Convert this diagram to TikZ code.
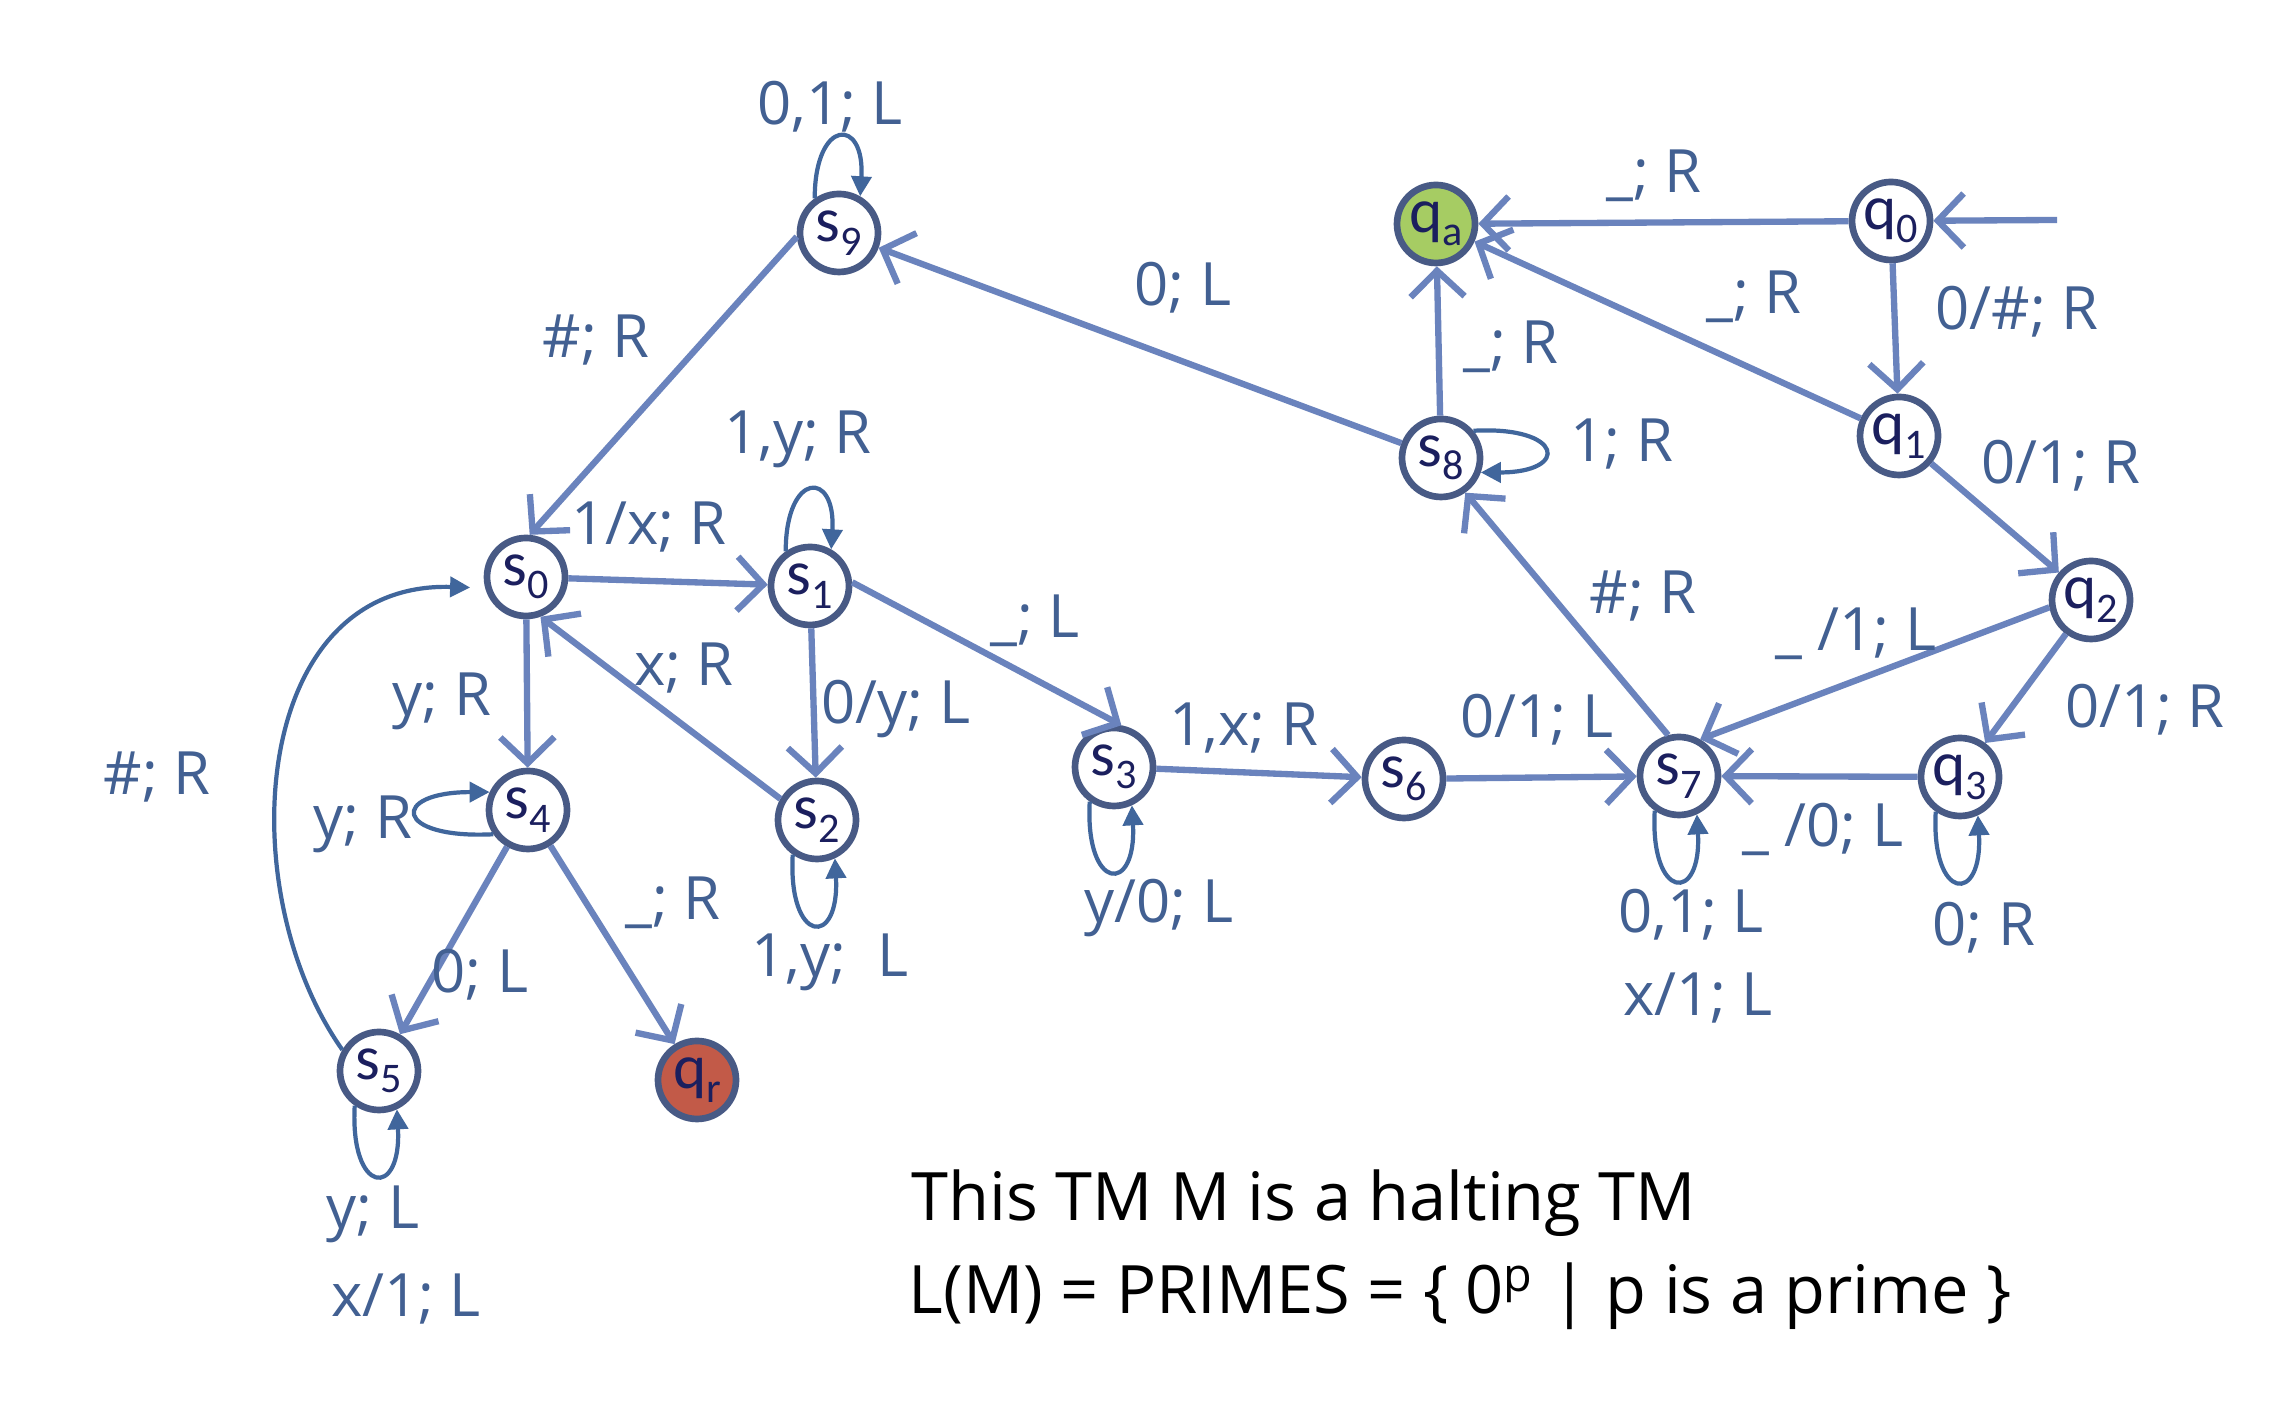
\documentclass[tikz,border=0pt]{standalone}
\usepackage{fontspec}
\setmainfont{Open Sans}
\newfontfamily\statefont{Carlito}
\usetikzlibrary{arrows.meta, positioning}
\definecolor{stateborder}{RGB}{72, 90, 133}
\definecolor{edgeblue}{RGB}{106, 131, 189}
\definecolor{loopblue}{RGB}{64, 102, 156}
\definecolor{labelblue}{RGB}{66, 96, 146}
\definecolor{statetext}{RGB}{27, 31, 94}
\definecolor{acceptgreen}{RGB}{166, 204, 99}
\definecolor{rejectred}{RGB}{194, 90, 72}
\newcommand{\stname}[2]{#1\raisebox{-0.45ex}{\fontsize{12}{12}\selectfont #2}}

\begin{document}
\begin{tikzpicture}[
    state/.style={circle, draw=stateborder, line width=1.9pt, fill=white, minimum size=0.78cm, inner sep=0pt, font=\statefont\fontsize{18}{18}\selectfont, text=statetext},
    edge/.style={draw=edgeblue, line width=1.8pt, -{Straight Barb[length=2.6mm,width=5.4mm]}},
    loopline/.style={draw=loopblue, line width=1.2pt, -{Triangle[length=2mm,width=2mm]}},
    lbl/.style={text=labelblue, font=\fontsize{17}{20}\selectfont, inner sep=0pt}
]
    \fill[white] (0,0) rectangle (22.84,14.21);
    \useasboundingbox (0,0) rectangle (22.84,14.21);

    % states
    \node[state] (s9) at (8.39,11.88) {\stname{s}{9}};
    \node[state, fill=acceptgreen] (qa) at (14.36,11.97) {\stname{q}{a}};
    \node[state] (q0) at (18.91,12.00) {\stname{q}{0}};
    \node[state] (q1) at (18.99,9.85) {\stname{q}{1}};
    \node[state] (s8) at (14.41,9.63) {\stname{s}{8}};
    \node[state] (s0) at (5.26,8.44) {\stname{s}{0}};
    \node[state] (s1) at (8.10,8.35) {\stname{s}{1}};
    \node[state] (q2) at (20.91,8.21) {\stname{q}{2}};
    \node[state] (s3) at (11.14,6.54) {\stname{s}{3}};
    \node[state] (s6) at (14.04,6.42) {\stname{s}{6}};
    \node[state] (s7) at (16.79,6.45) {\stname{s}{7}};
    \node[state] (q3) at (19.60,6.44) {\stname{q}{3}};
    \node[state] (s4) at (5.28,6.11) {\stname{s}{4}};
    \node[state] (s2) at (8.17,6.01) {\stname{s}{2}};
    \node[state] (s5) at (3.79,3.50) {\stname{s}{5}};
    \node[state, fill=rejectred] (qr) at (6.97,3.41) {\stname{q}{r}};
    \coordinate (start) at (20.57,12.01);

    % transitions
    \draw[edge] (start) -- (q0);
    \draw[edge] (q0) -- (qa);
    \draw[edge] (q0) -- (q1);
    \draw[edge] (q1) -- (qa);
    \draw[edge] (q1) -- (q2);
    \draw[edge] (s8) -- (qa);
    \draw[edge] (s8) -- (s9);
    \draw[edge] (s9.185) -- (s0.85);
    \draw[edge] (s0) -- (s1);
    \draw[edge] (s0) -- (s4);
    \draw[edge] (s2.150) -- (s0.290);
    \draw[edge] (s1) -- (s2);
    \draw[edge] (s1.5) -- (s3.80);
    \draw[edge] (s3) -- (s6);
    \draw[edge] (s6) -- (s7);
    \draw[edge] (q3) -- (s7);
    \draw[edge] (q2.190) -- (s7.60);
    \draw[edge] (q2) -- (q3);
    \draw[edge] (s7.105) -- (s8.305);
    \draw[edge] (s4) -- (s5);
    \draw[edge] (s4) -- (qr);

    % self loops
    \draw[loopline] (s9.125) .. controls +(0,0.8) and +(0.05,0.8) .. (s9.60);
    \draw[loopline] (s1.125) .. controls +(0,0.8) and +(0.05,0.8) .. (s1.60);
    \draw[loopline] (s8.40) .. controls +(0.9,0.05) and +(0.9,0) .. (s8.340);
    \draw[loopline] (s4.215) .. controls +(-1.0,-0.05) and +(-1.0,0) .. (s4.155);
    \foreach \s in {s2,s3,s5,s7,q3}
        \draw[loopline] (\s.235) .. controls +(-0.05,-0.9) and +(0.05,-0.9) .. (\s.295);
    \draw[loopline, shorten >=0.15cm] (s5.150) .. controls (2.3,5.3) and (2.5,8.4) .. (s0.195);

    % labels
    \node[lbl] (l9) at (8.30,13.14) {0,1; L};
    \node[lbl] (l90) at (5.96,10.81) {\#; R};
    \node[lbl] (l89) at (11.83,11.33) {0; L};
    \node[lbl] (l0a) at (16.54,12.45) {\_; R};
    \node[lbl] (l1a) at (17.54,11.24) {\_; R};
    \node[lbl] (l01) at (20.17,11.09) {0/\#; R};
    \node[lbl] (l8a) at (15.11,10.74) {\_; R};
    \node[lbl] (l8) at (16.22,9.77) {1; R};
    \node[lbl] (l12) at (20.61,9.55) {0/1; R};
    \node[lbl] (l1) at (7.98,9.82) {1,y; R};
    \node[lbl] (ls01) at (6.49,8.94) {1/x; R};
    \node[lbl] (l78) at (16.43,8.25) {\#; R};
    \node[lbl] (l27) at (18.56,7.87) {\_ /1; L};
    \node[lbl] (ls13) at (10.35,8.00) {\_; L};
    \node[lbl] (ls20) at (6.84,7.53) {x; R};
    \node[lbl] (ls04) at (4.42,7.20) {y; R};
    \node[lbl] (ls12) at (8.96,7.12) {0/y; L};
    \node[lbl] (ls36) at (12.44,6.93) {1,x; R};
    \node[lbl] (ls67) at (15.37,7.01) {0/1; L};
    \node[lbl] (l23) at (21.45,7.11) {0/1; R};
    \node[lbl] (ls50) at (1.57,6.44) {\#; R};
    \node[lbl] (ls4) at (3.63,5.97) {y; R};
    \node[lbl] (l37) at (18.23,5.92) {\_ /0; L};
    \node[lbl] (ls4r) at (6.73,5.18) {\_; R};
    \node[lbl] (ls3) at (11.59,5.13) {y/0; L};
    \node[lbl] (ls7a) at (16.91,5.06) {0,1; L};
    \node[lbl] (ls2) at (8.30,4.59) {1,y;\ \ L};
    \node[lbl] (ls45) at (4.80,4.46) {0; L};
    \node[lbl] (l3) at (19.84,4.93) {0; R};
    \node[lbl] (ls7b) at (16.98,4.23) {x/1; L};
    \node[lbl] (ls5a) at (3.73,2.07) {y; L};
    \node[lbl] (ls5b) at (4.06,1.22) {x/1; L};

    % caption
    \node[anchor=west, inner sep=0pt, font=\fontsize{19}{22}\selectfont] (cap1) at (9.11,2.18) {This TM M is a halting TM};
    \node[anchor=west, inner sep=0pt, font=\fontsize{19}{22}\selectfont] (cap2) at (9.08,1.25) {L(M) = PRIMES = \{ 0\textsuperscript{p} | p is a prime \}};
\end{tikzpicture}
\end{document}
